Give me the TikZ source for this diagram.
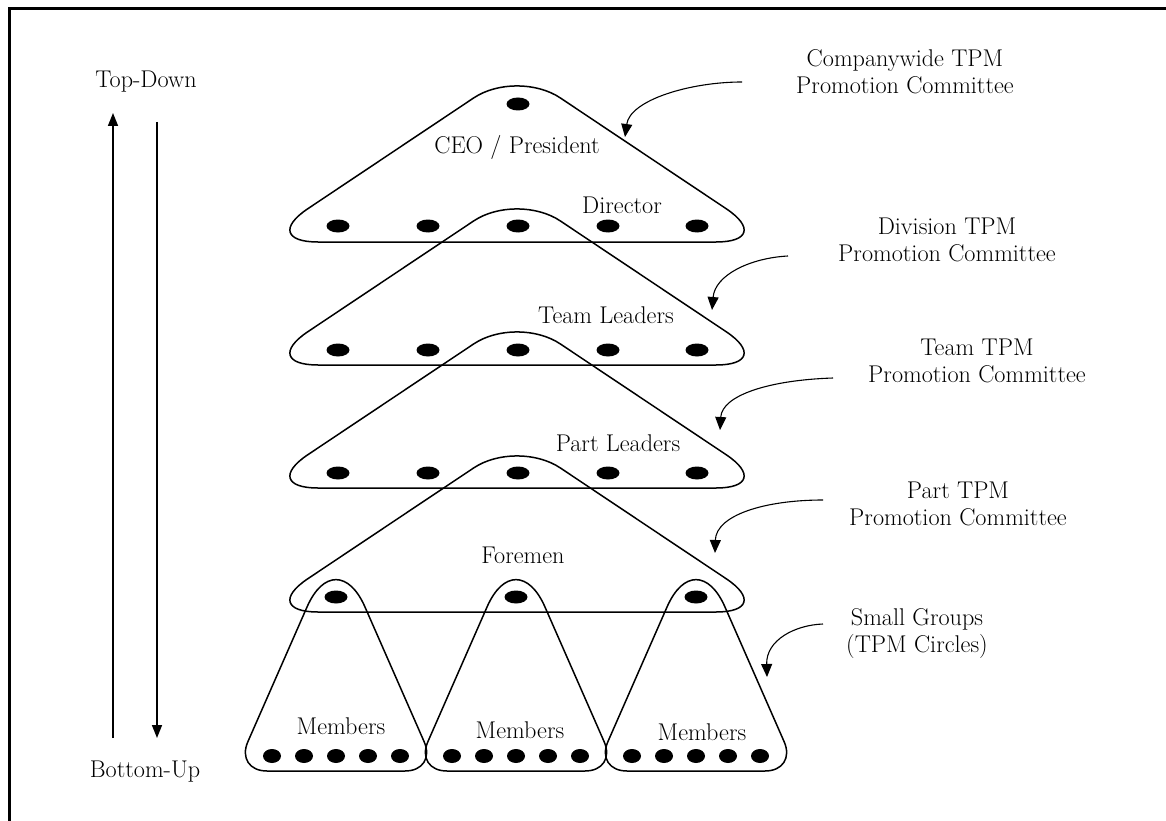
\documentclass[tikz,border=0pt]{standalone}
\usepackage{fontspec}
\usetikzlibrary{arrows.meta}
\tikzset{
  layer/.style={line width=1.5pt},
  crowd/.style={line width=1.5pt},
  pin/.style={line width=1.1pt, -{Triangle[length=13pt,width=11pt]}},
  flow/.style={line width=1.6pt, -{Triangle[length=13pt,width=10pt]}},
  lbl/.style={font=\fontsize{24.2}{27}\selectfont, align=center, inner sep=0pt},
}
\begin{document}
\begin{tikzpicture}[x=1pt,y=-1pt]
    \useasboundingbox (0,0) rectangle (1166,821);
    \draw[line width=3pt] (9,821) -- (9,9) -- (1166,9);

    % pyramid of committees
    \foreach \yb in {242,365,488,612}{
      \draw[layer] (517,\yb) [rounded corners=60pt] -- (776,\yb) [rounded corners=52pt] -- (517,\yb-173) [rounded corners=60pt] -- (258,\yb) -- cycle;
    }
    \fill (518,104) ellipse [x radius=11.5, y radius=6.5];
    \foreach \yy in {226,350,473}
      \foreach \xx in {338,428,518,608,697}
        \fill (\xx,\yy) ellipse [x radius=11.5, y radius=6.5];
    \foreach \xx in {336,516,696}
      \fill (\xx,597) ellipse [x radius=11.5, y radius=6.5];

    % small groups
    \foreach \cx in {336,516,696}{
      \draw[crowd] (\cx,771) [rounded corners=32pt] -- (\cx+101,771) [rounded corners=72pt] -- (\cx,541) [rounded corners=32pt] -- (\cx-101,771) -- cycle;
      \foreach \k in {-2,...,2}
        \fill (\cx+32*\k,756) ellipse [x radius=9, y radius=7];
    }

    \node[lbl] (ceo) at (517,147) {CEO / President};
    \node[lbl] (director) at (622,205) {Director};
    \node[lbl] (teamlead) at (606,315) {Team Leaders};
    \node[lbl] (partlead) at (618,443) {Part Leaders};
    \node[lbl] (foremen) at (523,555) {Foremen};
    \node[lbl] (memA) at (341,726) {Members};
    \node[lbl] (memB) at (520,730) {Members};
    \node[lbl] (memC) at (702,732) {Members};

    \node[lbl] (cwide) at (905,72) {Companywide TPM\\Promotion Committee};
    \node[lbl] (division) at (947,240) {Division TPM\\Promotion Committee};
    \node[lbl] (teamtpm) at (977,361) {Team TPM\\Promotion Committee};
    \node[lbl] (parttpm) at (958,504) {Part TPM\\Promotion Committee};
    \node[lbl] (circles) at (917,634) {Small Groups\\(TPM Circles)};

    \node[lbl] (topdown) at (146,82) {Top-Down};
    \node[lbl] (bottomup) at (145,772) {Bottom-Up};

    % top-down / bottom-up
    \coordinate (upfoot) at (113,738);
    \coordinate (uphead) at (113,113);
    \coordinate (downfoot) at (157,122);
    \coordinate (downhead) at (157,738);
    \draw[flow] (upfoot) -- (uphead);
    \draw[flow] (downfoot) -- (downhead);

    % pointers
    \coordinate (tailA) at (742,82);   \coordinate (tipA) at (625,137);
    \coordinate (tailB) at (788,256);  \coordinate (tipB) at (712,310);
    \coordinate (tailC) at (833,378);  \coordinate (tipC) at (720,430);
    \coordinate (tailD) at (823,500);  \coordinate (tipD) at (715,553);
    \coordinate (tailE) at (823,624);  \coordinate (tipE) at (767,677);
    \draw[pin] (tailA) .. controls (690,82) and (630,100) .. (tipA);
    \draw[pin] (tailB) .. controls (750,258) and (715,275) .. (tipB);
    \draw[pin] (tailC) .. controls (770,380) and (722,395) .. (tipC);
    \draw[pin] (tailD) .. controls (765,500) and (716,515) .. (tipD);
    \draw[pin] (tailE) .. controls (795,625) and (766,640) .. (tipE);
\end{tikzpicture}
\end{document}
